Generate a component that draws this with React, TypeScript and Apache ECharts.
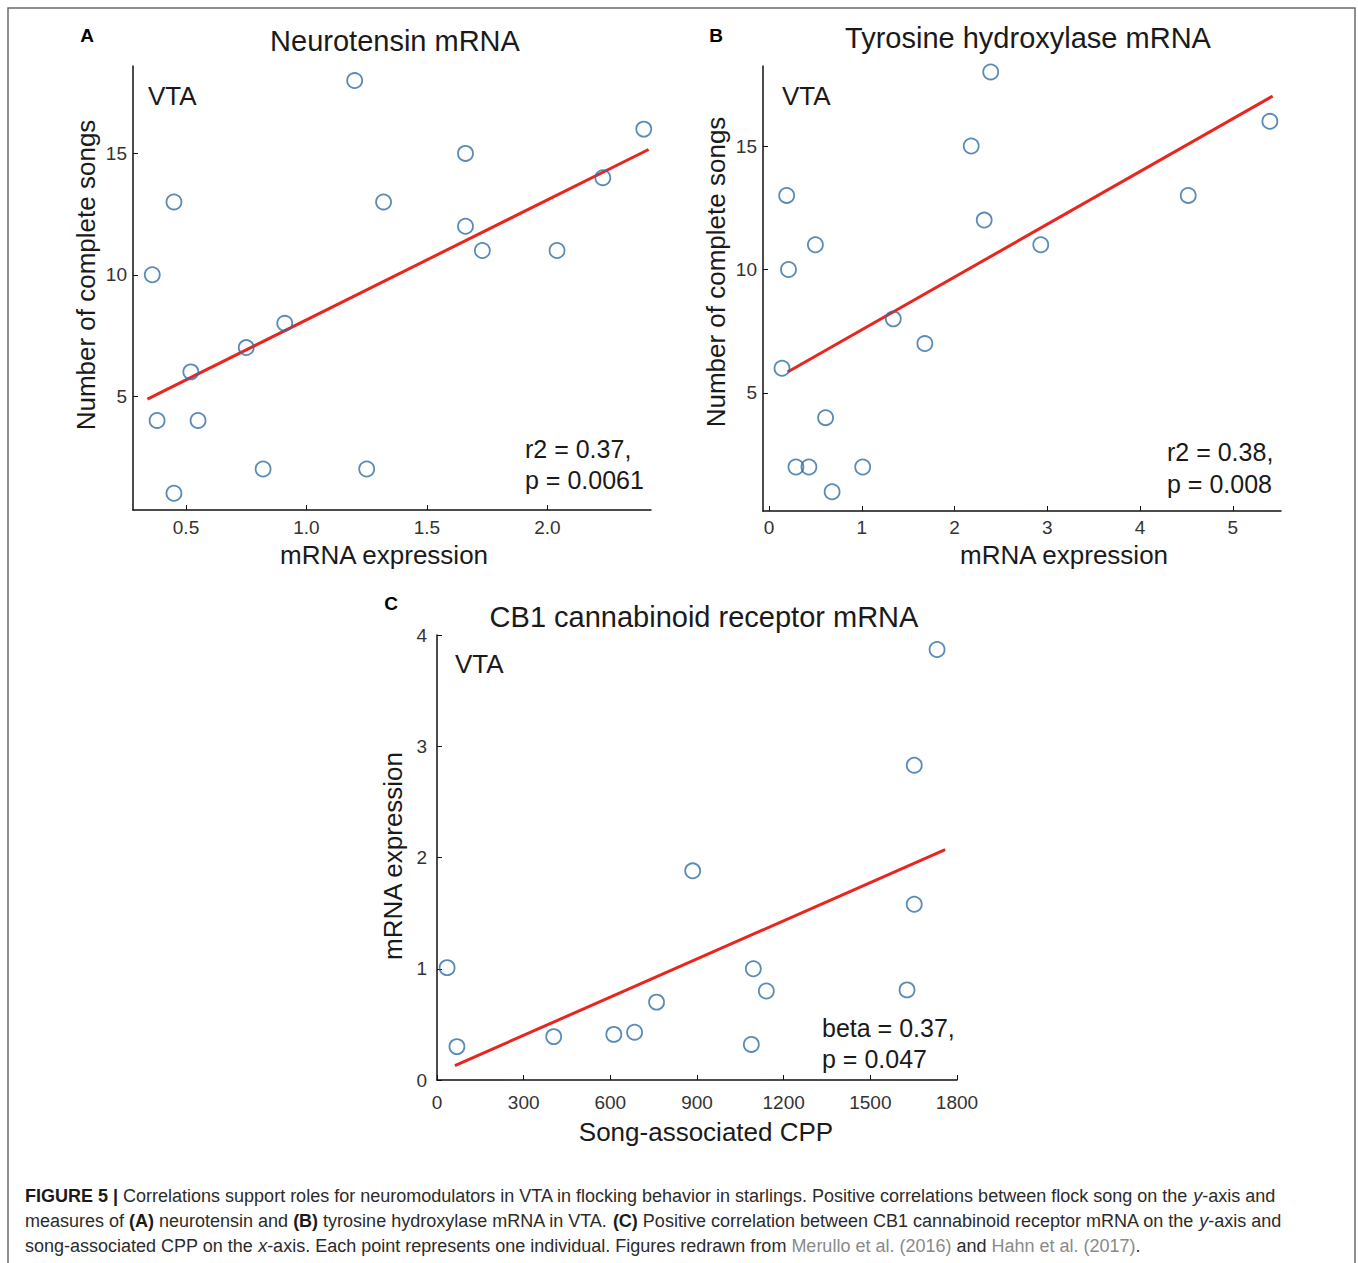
import React, { useEffect, useRef } from "react";
import * as echarts from "echarts";

// Panel A: Neurotensin mRNA
const aX = [0.36, 0.38, 0.45, 0.45, 0.52, 0.55, 0.75, 0.82, 0.91, 1.2, 1.25, 1.32, 1.66, 1.66, 1.73, 2.04, 2.23, 2.4];
const aY = [10, 4, 13, 1, 6, 4, 7, 2, 8, 18, 2, 13, 15, 12, 11, 11, 14, 16];
const aFitX = [0.34, 2.42];
const aFitY = [4.88, 15.16];
const aXTicks = [0.5, 1.0, 1.5, 2.0];
const aYTicks = [5, 10, 15];

// Panel B: Tyrosine hydroxylase mRNA
const bX = [0.14, 0.19, 0.21, 0.29, 0.43, 0.5, 0.61, 0.68, 1.01, 1.34, 1.68, 2.18, 2.32, 2.39, 2.93, 4.52, 5.4];
const bY = [6, 13, 10, 2, 2, 11, 4, 1, 2, 8, 7, 15, 12, 18, 11, 13, 16];
const bFitX = [0.2, 5.43];
const bFitY = [5.85, 17.02];
const bXTicks = [0, 1, 2, 3, 4, 5];
const bYTicks = [5, 10, 15];

// Panel C: CB1 cannabinoid receptor mRNA
const cX = [35, 69, 404, 612, 684, 760, 885, 1088, 1095, 1140, 1627, 1652, 1652, 1731];
const cY = [1.01, 0.3, 0.39, 0.41, 0.43, 0.7, 1.88, 0.32, 1.0, 0.8, 0.81, 1.58, 2.83, 3.87];
const cFitX = [62, 1759];
const cFitY = [0.13, 2.07];

const titles = ["Neurotensin mRNA", "Tyrosine hydroxylase mRNA", "CB1 cannabinoid receptor mRNA"];
const letters = ["A", "B", "C"];
const statsA = ["r2 = 0.37,", "p = 0.0061"];
const statsB = ["r2 = 0.38,", "p = 0.008"];
const statsC = ["beta = 0.37,", "p = 0.047"];

const captionLines = [
  "{b|FIGURE 5 |} Correlations support roles for neuromodulators in VTA in flocking behavior in starlings. Positive correlations between flock song on the {i|y}-axis and",
  "measures of {b|(A)} neurotensin and {b|(B)} tyrosine hydroxylase mRNA in VTA. {b|(C)} Positive correlation between CB1 cannabinoid receptor mRNA on the {i|y}-axis and",
  "song-associated CPP on the {i|x}-axis. Each point represents one individual. Figures redrawn from {g|Merullo et al. (2016)} and {g|Hahn et al. (2017)}.",
];

const FONT = "'Liberation Sans', Arial, sans-serif";
const BLUE = "#2f6ea8";
const RED = "#e8261f";
const CAP = 18;

const zip = (xs: number[], ys: number[]) => xs.map((x, i) => [x, ys[i]]);

function xAxisCfg(gridIndex: number, min: number, max: number, ticks: number[] | null, fmt: (v: number) => string, margin: number) {
  const base: any = {
    type: "value",
    gridIndex,
    min,
    max,
    splitLine: { show: false },
    axisLine: { show: true, onZero: false, lineStyle: { color: "#111", width: 1.5 } },
    axisTick: { show: true, inside: true, length: 5, lineStyle: { color: "#111", width: 1 } },
    axisLabel: { show: true, color: "#333", fontSize: 19, fontFamily: FONT, margin, formatter: fmt, showMinLabel: true, showMaxLabel: true },
  };
  if (ticks) {
    base.axisTick.customValues = ticks;
    base.axisLabel.customValues = ticks;
  }
  return base;
}

function yAxisCfg(gridIndex: number, min: number, max: number, ticks: number[] | null, margin: number, interval?: number) {
  const base: any = {
    type: "value",
    gridIndex,
    min,
    max,
    splitLine: { show: false },
    axisLine: { show: true, onZero: false, lineStyle: { color: "#111", width: 1.5 } },
    axisTick: { show: true, inside: true, length: 5, lineStyle: { color: "#111", width: 1 } },
    axisLabel: { show: true, color: "#333", fontSize: 19, fontFamily: FONT, margin, showMinLabel: true, showMaxLabel: true },
  };
  if (interval) base.interval = interval;
  if (ticks) {
    base.axisTick.customValues = ticks;
    base.axisLabel.customValues = ticks;
  }
  return base;
}

function scatter(idx: number, xs: number[], ys: number[]) {
  return {
    type: "scatter",
    xAxisIndex: idx,
    yAxisIndex: idx,
    data: zip(xs, ys),
    symbol: "circle",
    symbolSize: 15,
    itemStyle: { color: "rgba(255,255,255,0)", borderColor: BLUE, borderWidth: 1.8 },
    z: 3,
  };
}

function fit(idx: number, xs: number[], ys: number[]) {
  return {
    type: "line",
    xAxisIndex: idx,
    yAxisIndex: idx,
    data: zip(xs, ys),
    symbol: "none",
    lineStyle: { color: RED, width: 3 },
    z: 2,
  };
}

function txt(x: number, y: number, text: string, size: number, opts: any = {}) {
  return {
    type: "text",
    x,
    y,
    rotation: opts.rotation || 0,
    style: {
      text,
      fontSize: size,
      fontFamily: FONT,
      fontWeight: opts.bold ? "bold" : "normal",
      fill: opts.color || "#1a1a1a",
      align: opts.align || "center",
      verticalAlign: "middle",
    },
  };
}

export default function App() {
  const ref = useRef<HTMLDivElement>(null);
  useEffect(() => {
    document.body.style.margin = "0";
    const chart = echarts.init(ref.current!, null, { renderer: "svg" });
    const graphics: any[] = [
      { type: "rect", shape: { x: 8, y: 8, width: 1347, height: 1262 }, style: { fill: "none", stroke: "#6a6a6a", lineWidth: 1.5 } },
      txt(87, 35, letters[0], 19, { bold: true, color: "#000" }),
      txt(716, 35, letters[1], 19, { bold: true, color: "#000" }),
      txt(391, 603, letters[2], 19, { bold: true, color: "#000" }),
      txt(395, 41, titles[0], 29),
      txt(1028, 38, titles[1], 29),
      txt(704, 617, titles[2], 29),
      txt(86, 275, "Number of complete songs", 26, { rotation: Math.PI / 2 }),
      txt(716, 272, "Number of complete songs", 26, { rotation: Math.PI / 2 }),
      txt(393, 856, "mRNA expression", 26, { rotation: Math.PI / 2 }),
      txt(384, 555, "mRNA expression", 26),
      txt(1064, 555, "mRNA expression", 26),
      txt(706, 1132, "Song-associated CPP", 26),
      txt(148, 96, "VTA", 26, { align: "left" }),
      txt(782, 96, "VTA", 26, { align: "left" }),
      txt(455, 664, "VTA", 26, { align: "left" }),
      txt(525, 449, statsA[0], 25, { align: "left" }),
      txt(525, 480, statsA[1], 25, { align: "left" }),
      txt(1167, 452, statsB[0], 25, { align: "left" }),
      txt(1167, 484, statsB[1], 25, { align: "left" }),
      txt(822, 1028, statsC[0], 25, { align: "left" }),
      txt(822, 1059, statsC[1], 25, { align: "left" }),
    ];
    const capY = [1196, 1221, 1246];
    captionLines.forEach((line, i) => {
      graphics.push({
        type: "text",
        x: 25,
        y: capY[i],
        style: {
          text: line,
          fontSize: CAP,
          fontFamily: FONT,
          fill: "#2b2b2b",
          align: "left",
          verticalAlign: "middle",
          rich: {
            b: { fontWeight: "bold", fontSize: CAP, fontFamily: FONT, fill: "#1a1a1a" },
            i: { fontStyle: "italic", fontSize: CAP, fontFamily: FONT, fill: "#2b2b2b" },
            g: { fontSize: CAP, fontFamily: FONT, fill: "#8a8a8a" },
          },
        },
      });
    });

    chart.setOption({
      animation: false,
      backgroundColor: "#ffffff",
      grid: [
        { left: 133, top: 66, width: 518, height: 444 },
        { left: 763, top: 66, width: 518, height: 445 },
        { left: 437, top: 635, width: 520, height: 445 },
      ],
      xAxis: [
        xAxisCfg(0, 0.28, 2.43, aXTicks, (v: number) => v.toFixed(1), 8),
        xAxisCfg(1, -0.065, 5.52, bXTicks, (v: number) => String(v), 7),
        { ...xAxisCfg(2, 0, 1800, null, (v: number) => String(v), 13), interval: 300 },
      ],
      yAxis: [
        yAxisCfg(0, 0.31, 18.6, aYTicks, 6),
        yAxisCfg(1, 0.22, 18.24, bYTicks, 6),
        yAxisCfg(2, 0, 4, null, 10, 1),
      ],
      series: [
        fit(0, aFitX, aFitY),
        scatter(0, aX, aY),
        fit(1, bFitX, bFitY),
        scatter(1, bX, bY),
        fit(2, cFitX, cFitY),
        scatter(2, cX, cY),
      ],
      graphic: graphics,
    });
    return () => chart.dispose();
  }, []);
  return <div ref={ref} style={{ width: 1358, height: 1263 }} />;
}
